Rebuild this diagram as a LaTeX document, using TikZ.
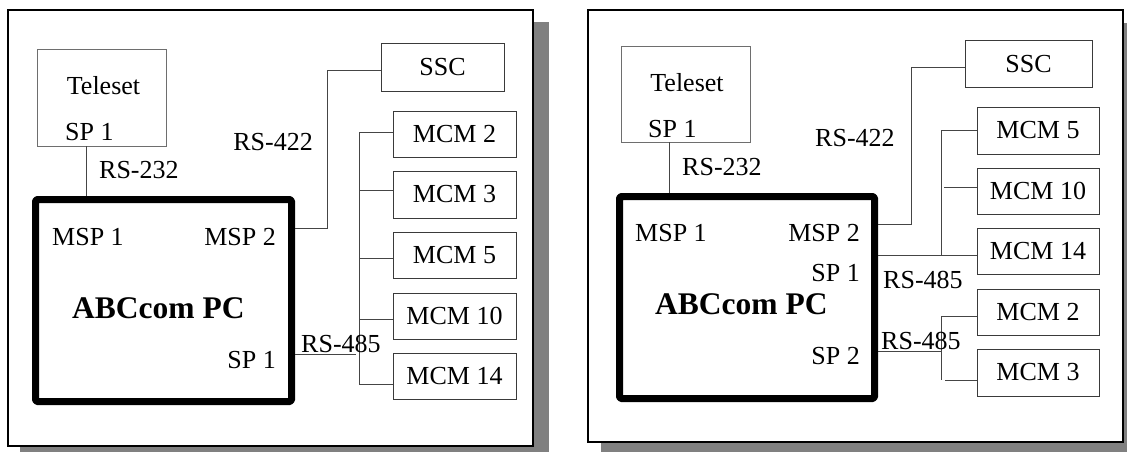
\documentclass[tikz,border=0pt]{standalone}
\usepackage{fontspec}
\setmainfont{Liberation Serif}
\definecolor{shadowgray}{HTML}{808080}
\definecolor{boxgray}{HTML}{3A3A3A}
\definecolor{lightbox}{HTML}{6E6E6E}
\definecolor{wiregray}{HTML}{454545}
\newcommand{\lblfont}{\fontsize{26pt}{30pt}\selectfont}
\newcommand{\pcfont}{\fontsize{31.5pt}{36pt}\selectfont\bfseries}
\tikzset{
  shadowbox/.style={fill=shadowgray, draw=none},
  panel/.style={draw=black, line width=2.2pt, fill=white},
  unit/.style={draw=boxgray, line width=1pt, inner sep=0pt, font=\lblfont, fill=white},
  teleunit/.style={unit, draw=lightbox},
  pcbox/.style={draw=black, line width=7pt, line join=round, rounded corners=1.5pt, inner sep=0pt},
  wire/.style={draw=wiregray, line width=1pt},
  lbl/.style={inner sep=0pt, font=\lblfont},
  pclbl/.style={inner sep=0pt, font=\pcfont},
}
\begin{document}
\begin{tikzpicture}[x=1pt,y=-1pt]
\useasboundingbox (0,0) rectangle (1127,452);
\clip (0,0) rectangle (1127,452);

% ---------------- first configuration ----------------
\fill[shadowbox] (20,22) rectangle (549,462);
\draw[panel] (8,10) rectangle (533,446);

\node[teleunit, minimum width=129pt, minimum height=96pt] (l-tele) at (101.5,98) {};
\node[lbl, anchor=base] (l-teletxt) at (103.5,95) {Teleset};
\node[lbl, anchor=base west] (l-telesp) at (65,140) {SP 1};

\node[pcbox, minimum width=256pt, minimum height=202pt] (l-pc) at (163.5,300.5) {};
\node[lbl, anchor=base west] (l-msp1) at (52,245) {MSP 1};
\node[lbl, anchor=base east] (l-msp2) at (276,245) {MSP 2};
\node[pclbl, anchor=base west] (l-name) at (72,318) {ABCcom PC};
\node[lbl, anchor=base east] (l-sp1) at (276,368) {SP 1};

\node[unit, minimum width=123pt, minimum height=47pt] (l-ssc) at (442.5,67.5) {SSC};
\node[unit, minimum width=123pt, minimum height=46pt] (l-m2) at (454.5,134) {MCM 2};
\node[unit, minimum width=123pt, minimum height=47pt] (l-m3) at (454.5,194.5) {MCM 3};
\node[unit, minimum width=123pt, minimum height=46pt] (l-m5) at (454.5,255) {MCM 5};
\node[unit, minimum width=123pt, minimum height=46pt] (l-m10) at (454.5,316) {MCM 10};
\node[unit, minimum width=123pt, minimum height=46pt] (l-m14) at (454.5,376) {MCM 14};

% RS-232 link
\coordinate (l-j232) at (86,146);
\draw[wire] (l-j232) -- (l-j232 |- l-pc.north);
\node[lbl, anchor=base west] (l-rs232) at (99,178) {RS-232};

% RS-422 link to SSC
\coordinate (l-k422) at (327,228);
\coordinate (l-k422b) at (327,71);
\draw[wire] (l-pc.east |- l-k422) -- (l-k422) -- (l-k422b) -- (l-k422b -| l-ssc.west);
\node[lbl, anchor=base east] (l-rs422) at (313,150) {RS-422};

% RS-485 bus
\coordinate (l-b2) at (359,132);
\coordinate (l-b3) at (359,190);
\coordinate (l-b5) at (359,258);
\coordinate (l-b10) at (359,319);
\coordinate (l-b14) at (359,384);
\coordinate (l-j485) at (356,354);
\draw[wire] (l-b2) -- (l-b14);
\draw[wire] (l-b2) -- (l-b2 -| l-m2.west);
\draw[wire] (l-b3) -- (l-b3 -| l-m3.west);
\draw[wire] (l-b5) -- (l-b5 -| l-m5.west);
\draw[wire] (l-b10) -- (l-b10 -| l-m10.west);
\draw[wire] (l-b14) -- (l-b14 -| l-m14.west);
\draw[wire] (l-pc.east |- l-j485) -- (l-j485);
\node[lbl, anchor=base west] (l-rs485) at (301,352) {RS-485};

% ---------------- second configuration ----------------
\fill[shadowbox] (601,23) rectangle (1140,460);
\draw[panel] (588,10) rectangle (1123,442);

\node[teleunit, minimum width=129pt, minimum height=95pt] (r-tele) at (685.5,94.5) {};
\node[lbl, anchor=base] (r-teletxt) at (687,92) {Teleset};
\node[lbl, anchor=base west] (r-telesp) at (648,137) {SP 1};

\node[pcbox, minimum width=255pt, minimum height=202pt] (r-pc) at (747,297.5) {};
\node[lbl, anchor=base west] (r-msp1) at (635,241) {MSP 1};
\node[lbl, anchor=base east] (r-msp2) at (860,241) {MSP 2};
\node[pclbl, anchor=base west] (r-name) at (655,314) {ABCcom PC};
\node[lbl, anchor=base east] (r-sp1) at (860,281) {SP 1};
\node[lbl, anchor=base east] (r-sp2) at (860,364) {SP 2};

\node[unit, minimum width=127pt, minimum height=46pt] (r-ssc) at (1028.5,64) {SSC};
\node[unit, minimum width=122pt, minimum height=47pt] (r-m5) at (1038,130.5) {MCM 5};
\node[unit, minimum width=122pt, minimum height=46pt] (r-m10) at (1038,191) {MCM 10};
\node[unit, minimum width=122pt, minimum height=46pt] (r-m14) at (1038,251) {MCM 14};
\node[unit, minimum width=122pt, minimum height=46pt] (r-m2) at (1038,312) {MCM 2};
\node[unit, minimum width=122pt, minimum height=47pt] (r-m3) at (1038,372.5) {MCM 3};

% RS-232 link
\coordinate (r-j232) at (669,142);
\draw[wire] (r-j232) -- (r-j232 |- r-pc.north);
\node[lbl, anchor=base west] (r-rs232) at (682,175) {RS-232};

% RS-422 link to SSC
\coordinate (r-k422) at (911,224);
\coordinate (r-k422b) at (911,68);
\draw[wire] (r-pc.east |- r-k422) -- (r-k422) -- (r-k422b) -- (r-k422b -| r-ssc.west);
\node[lbl, anchor=base west] (r-rs422) at (815,146) {RS-422};

% first RS-485 bus (SP 1)
\coordinate (r-b5) at (941,130);
\coordinate (r-b10) at (944,187);
\coordinate (r-b14) at (941,255);
\draw[wire] (r-b5) -- (r-b14);
\draw[wire] (r-b5) -- (r-b5 -| r-m5.west);
\draw[wire] (r-b10) -- (r-b10 -| r-m10.west);
\draw[wire] (r-pc.east |- r-b14) -- (r-b14 -| r-m14.west);
\node[lbl, anchor=base west] (r-rs485a) at (883,288) {RS-485};

% second RS-485 bus (SP 2)
\coordinate (r-b2) at (941,316);
\coordinate (r-b3) at (941,380);
\coordinate (r-b3s) at (945,380);
\coordinate (r-j485) at (941,351);
\draw[wire] (r-b2) -- (r-b3);
\draw[wire] (r-b2) -- (r-b2 -| r-m2.west);
\draw[wire] (r-b3s) -- (r-b3s -| r-m3.west);
\draw[wire] (r-pc.east |- r-j485) -- (r-j485);
\node[lbl, anchor=base west] (r-rs485b) at (881,349) {RS-485};
\end{tikzpicture}
\end{document}
